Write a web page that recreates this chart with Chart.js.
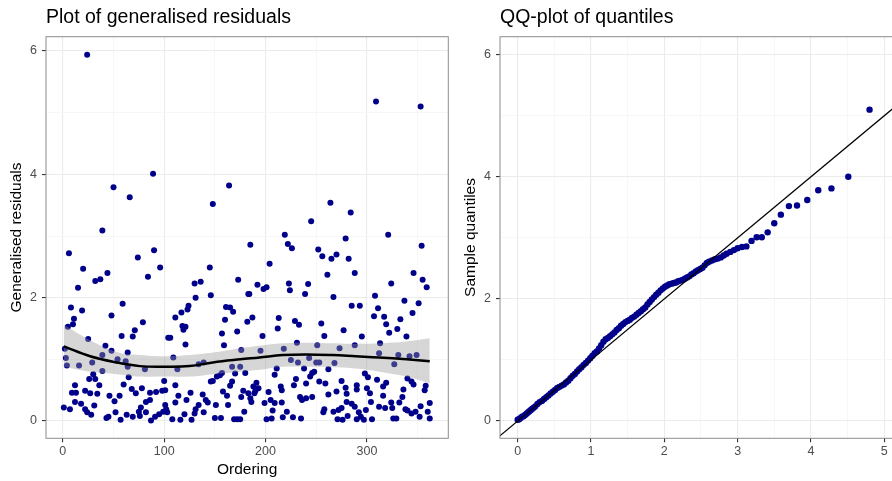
<!DOCTYPE html>
<html>
<head>
<meta charset="utf-8">
<script src="https://cdn.jsdelivr.net/npm/chart.js@4.4.1/dist/chart.umd.min.js"></script>
<style>
  html, body { margin: 0; padding: 0; background: #fff; overflow: hidden; width: 892px; height: 481px; }
  #residualChart { position: absolute; left: 0; top: 0; }
  #qqChart { position: absolute; left: 454px; top: 0; }
</style>
</head>
<body>
<canvas id="residualChart" width="454" height="481"></canvas>
<canvas id="qqChart" width="460" height="481"></canvas>
<script>
// left panel: [ordering, generalised residual]
const residualPoints = [
  [24,5.94],[50,3.79],[66,3.63],[89,4.01],[148,3.52],[164,3.82],[39,3.09],[309,5.18],[353,5.10],[245,3.24],
  [264,3.54],[284,3.38],[6,2.72],[20,2.47],[15,2.16],[32,2.27],[37,2.30],[44,2.40],[74,2.65],[90,2.77],
  [84,2.34],[96,2.49],[130,2.23],[136,2.26],[145,2.49],[173,2.29],[185,2.86],[219,3.02],[222,2.87],[226,2.80],
  [279,2.96],[252,2.78],[256,2.67],[265,2.63],[270,2.70],[282,2.63],[204,2.55],[261,2.37],[288,2.40],[321,3.02],
  [354,2.84],[346,2.40],[355,2.29],[359,2.17],[324,2.23],[192,2.21],[201,2.17],[223,2.23],[242,2.22],[224,2.12],
  [198,2.14],[146,2.04],[183,2.06],[8,1.84],[19,1.79],[11,1.66],[10,1.57],[5,1.53],[59,1.90],[48,1.71],
  [79,1.60],[71,1.47],[69,1.37],[58,1.38],[25,1.33],[2,1.17],[3,1.02],[4,0.90],[16,0.90],[42,1.22],
  [48,1.14],[39,1.07],[29,0.95],[54,1.00],[64,1.11],[62,0.97],[39,0.81],[81,0.84],[30,0.76],[26,0.68],
  [32,0.68],[36,0.58],[12,0.58],[9,0.46],[13,0.46],[22,0.49],[27,0.45],[34,0.44],[12,0.31],[18,0.28],
  [22,0.19],[31,0.25],[1,0.22],[7,0.19],[28,0.10],[24,0.14],[43,0.05],[45,0.07],[52,0.14],[57,0.02],
  [46,0.41],[51,0.32],[56,0.41],[60,0.59],[65,0.71],[68,0.52],[72,0.45],[78,0.53],[86,0.46],[92,0.47],
  [86,0.34],[82,0.31],[77,0.22],[75,0.15],[63,0.10],[69,0.07],[76,0.08],[82,0.14],[87,0.01],[91,0.07],
  [95,0.11],[99,0.15],[102,0.19],[103,0.14],[100,0.65],[101,0.50],[98,0.49],[101,0.26],[108,0.03],[111,0.30],
  [111,0.58],[114,0.41],[116,0.02],[120,0.11],[122,0.34],[126,0.46],[127,0.02],[130,0.12],[131,0.19],[134,0.26],
  [138,0.43],[141,0.34],[143,0.30],[139,0.14],[146,0.64],[148,0.65],[152,0.72],[155,0.74],[151,0.26],[158,0.48],
  [163,0.26],[162,0.41],[150,0.05],[156,0.05],[169,0.03],[172,0.03],[167,0.64],[165,0.57],[170,0.77],[175,0.88],
  [104,1.35],[106,1.35],[109,1.03],[113,0.84],[121,1.24],[111,1.68],[117,1.76],[124,1.87],[123,1.81],[118,1.54],
  [121,1.53],[119,1.48],[131,2.00],[134,0.92],[139,0.95],[161,1.85],[165,1.84],[168,1.77],[160,1.64],[172,1.45],
  [157,1.42],[159,1.23],[176,1.15],[157,0.78],[167,0.88],[64,0.88],[184,2.06],[239,2.06],[267,2.01],[285,1.87],
  [293,1.87],[308,2.03],[311,1.83],[307,1.70],[317,1.69],[319,1.57],[322,1.43],[330,1.49],[333,1.65],[337,1.95],
  [345,1.75],[351,1.91],[339,1.37],[313,1.26],[182,1.61],[187,1.68],[197,1.38],[213,1.67],[212,1.50],[229,1.62],
  [233,1.56],[255,1.58],[258,1.38],[277,1.47],[288,1.23],[295,1.37],[195,1.14],[218,1.17],[231,1.27],[251,1.23],
  [273,1.18],[225,0.99],[232,0.95],[243,1.02],[250,0.95],[253,0.95],[268,0.94],[262,0.84],[238,0.85],[211,0.85],
  [180,0.78],[312,1.10],[327,0.92],[331,1.07],[342,1.05],[349,1.07],[209,0.75],[230,0.68],[244,0.72],[246,0.78],
  [248,0.80],[253,0.64],[259,0.61],[275,0.65],[228,0.58],[240,0.61],[215,0.56],[216,0.50],[191,0.62],[188,0.56],
  [193,0.53],[189,0.45],[183,0.45],[178,0.49],[176,0.39],[185,0.37],[186,0.31],[179,0.15],[175,0.03],[199,0.29],
  [203,0.47],[205,0.34],[209,0.29],[207,0.17],[201,0.03],[206,0.04],[217,0.06],[221,0.15],[227,0.06],[235,0.04],
  [234,0.39],[236,0.34],[240,0.37],[246,0.39],[258,0.19],[257,0.14],[262,0.43],[267,0.15],[270,0.48],[272,0.18],
  [271,0.03],[275,0.21],[276,0.02],[279,0.54],[280,0.44],[281,0.08],[285,0.28],[290,0.58],[290,0.51],[292,0.14],
  [294,0.07],[297,0.02],[299,0.18],[298,0.77],[301,0.71],[300,0.53],[303,0.45],[304,0.31],[305,0.03],[310,0.67],
  [312,0.23],[316,0.41],[316,0.56],[319,0.62],[318,0.21],[324,0.30],[326,0.04],[325,0.21],[329,0.04],[332,0.30],
  [335,0.39],[336,0.51],[340,0.69],[344,0.64],[346,0.59],[338,0.19],[340,0.17],[344,0.12],[348,0.15],[352,0.07],
  [353,0.24],[357,0.50],[358,0.57],[362,0.29],[360,0.15],[362,0.04],[190,0.49],[216,0.30],[280,0.31],[288,0.23],
  [290,0.03]
];

// loess smoother and its confidence band
const smoothOrdering = [1, 27, 53, 76, 100, 125, 148, 175, 194, 217, 240, 266, 289, 312, 339, 362];
const smoothFit      = [1.21, 1.05, 0.95, 0.89, 0.88, 0.89, 0.95, 1.00, 1.03, 1.07, 1.08, 1.07, 1.05, 1.03, 1.00, 0.97];
const smoothUpper    = [1.56, 1.31, 1.12, 1.07, 1.05, 1.07, 1.11, 1.18, 1.22, 1.26, 1.27, 1.26, 1.25, 1.26, 1.29, 1.34];
const smoothLower    = [0.88, 0.80, 0.76, 0.72, 0.72, 0.72, 0.76, 0.80, 0.83, 0.88, 0.88, 0.87, 0.85, 0.80, 0.72, 0.61];

const residualXTicks = [0, 100, 200, 300];
const residualXMinor = [50, 150, 250, 350];
const residualYTicks = [0, 2, 4, 6];
const residualYMinor = [1, 3, 5];

// right panel: [theoretical quantile, sample quantile]
const qqPoints = [
  [0.00,0.02],[0.02,0.03],[0.04,0.05],[0.06,0.07],[0.08,0.08],[0.10,0.10],[0.12,0.12],[0.14,0.14],[0.16,0.16],[0.18,0.18],
  [0.20,0.20],[0.22,0.22],[0.24,0.24],[0.27,0.28],[0.30,0.31],[0.33,0.33],[0.36,0.36],[0.39,0.39],[0.42,0.42],[0.45,0.45],
  [0.48,0.48],[0.51,0.51],[0.54,0.54],[0.57,0.56],[0.60,0.58],[0.63,0.60],[0.66,0.63],[0.69,0.66],[0.72,0.70],[0.75,0.74],
  [0.78,0.77],[0.81,0.81],[0.84,0.85],[0.87,0.88],[0.90,0.92],[0.93,0.95],[0.96,0.99],[0.99,1.03],[1.02,1.07],[1.05,1.11],
  [1.08,1.14],[1.11,1.19],[1.14,1.24],[1.17,1.30],[1.20,1.34],[1.23,1.36],[1.26,1.39],[1.29,1.42],[1.32,1.45],[1.35,1.49],
  [1.38,1.52],[1.41,1.56],[1.44,1.59],[1.47,1.62],[1.50,1.64],[1.53,1.66],[1.56,1.69],[1.59,1.71],[1.62,1.74],[1.65,1.77],
  [1.68,1.80],[1.71,1.83],[1.74,1.86],[1.77,1.91],[1.80,1.95],[1.83,1.99],[1.86,2.03],[1.89,2.07],[1.92,2.10],[1.95,2.14],
  [1.98,2.17],[2.01,2.20],[2.04,2.22],[2.07,2.24],[2.10,2.25],[2.13,2.26],[2.16,2.27],[2.19,2.29],[2.22,2.30],[2.25,2.31],
  [2.28,2.33],[2.31,2.35],[2.34,2.37],[2.37,2.40],[2.40,2.42],[2.43,2.45],[2.46,2.47],[2.49,2.49],[2.52,2.51],[2.55,2.55],
  [2.58,2.59],[2.61,2.61],[2.65,2.63],[2.69,2.65],[2.73,2.66],[2.77,2.68],[2.81,2.71],[2.85,2.74],[2.90,2.77],[2.95,2.80],
  [3.00,2.83],[3.06,2.85],[3.12,2.86],[3.19,2.95],[3.26,3.01],[3.33,3.01],[3.41,3.09],[3.50,3.24],[3.59,3.38],[3.70,3.52],
  [3.81,3.53],[3.95,3.62],[4.10,3.78],[4.28,3.81],[4.51,4.00],[4.80,5.10],[5.19,5.18],[5.89,5.93]
];
const qqLineIntercept = 0;
const qqLineSlope = 1;

const qqXTicks = [0, 1, 2, 3, 4, 5];
const qqXMinor = [0.5, 1.5, 2.5, 3.5, 4.5];
const qqYTicks = [0, 2, 4, 6];
const qqYMinor = [1, 3, 5];

const FONT = '"Liberation Sans", Arial, Helvetica, sans-serif';
const POINT_COLOR = "#00008b";

function toXY(pairs) {
  return pairs.map(function (p) { return { x: p[0], y: p[1] }; });
}

function ggAxis(min, max, major, minor, titleText, titlePadding, boxSize, tickPad) {
  const isMajor = function (ctx) {
    return ctx.tick && major.includes(ctx.tick.value);
  };
  return {
    type: "linear",
    min: min,
    max: max,
    afterBuildTicks: function (scale) {
      scale.ticks = major.concat(minor).sort(function (a, b) { return a - b; })
        .map(function (v) { return { value: v }; });
    },
    afterFit: function (scale) {
      if (scale.isHorizontal()) scale.height = boxSize;
      else scale.width = boxSize;
    },
    grid: {
      color: function (ctx) { return isMajor(ctx) ? "#ebebeb" : "#f3f3f3"; },
      lineWidth: function (ctx) { return isMajor(ctx) ? 1.1 : 0.7; },
      tickColor: function (ctx) { return isMajor(ctx) ? "#333333" : "rgba(0,0,0,0)"; },
      tickLength: 4,
      drawTicks: true,
    },
    border: { display: false },
    ticks: {
      autoSkip: false,
      maxRotation: 0,
      padding: tickPad,
      color: "#4d4d4d",
      font: { family: FONT, size: 12.5 },
      callback: function (value) {
        return major.includes(value) ? String(value) : "";
      },
    },
    title: {
      display: !!titleText,
      text: titleText || "",
      color: "#000000",
      font: { family: FONT, size: 15.5 },
      padding: titlePadding,
    },
  };
}

const panelBorder = {
  id: "panelBorder",
  afterDatasetsDraw: function (chart) {
    const a = chart.chartArea;
    const ctx = chart.ctx;
    ctx.save();
    ctx.strokeStyle = "#8c8c8c";
    ctx.lineWidth = 1;
    ctx.strokeRect(a.left, a.top, a.right - a.left, a.bottom - a.top);
    ctx.restore();
  },
};

function plotTitle(text) {
  return {
    display: true,
    text: text,
    align: "start",
    fullSize: false,
    color: "#000000",
    font: { family: FONT, size: 19.5, weight: "normal" },
    padding: { top: 5.5, bottom: 7.8 },
  };
}

// ---------- left: generalised residuals ----------
new Chart(document.getElementById("residualChart").getContext("2d"), {
  type: "scatter",
  data: {
    datasets: [
      {
        data: toXY(smoothOrdering.map(function (x, i) { return [x, smoothFit[i]]; })),
        showLine: true,
        borderColor: "#000000",
        borderWidth: 2.5,
        pointRadius: 0,
        tension: 0.4,
        fill: false,
      },
      {
        data: toXY(smoothOrdering.map(function (x, i) { return [x, smoothUpper[i]]; })),
        showLine: true,
        borderWidth: 0,
        borderColor: "rgba(0,0,0,0)",
        backgroundColor: "rgba(153,153,153,0.4)",
        pointRadius: 0,
        tension: 0.4,
        fill: "+1",
      },
      {
        data: toXY(smoothOrdering.map(function (x, i) { return [x, smoothLower[i]]; })),
        showLine: true,
        borderWidth: 0,
        borderColor: "rgba(0,0,0,0)",
        pointRadius: 0,
        tension: 0.4,
        fill: false,
      },
      {
        data: toXY(residualPoints),
        pointRadius: 3,
        pointBackgroundColor: POINT_COLOR,
        pointBorderWidth: 0,
      },
    ],
  },
  options: {
    responsive: false,
    animation: false,
    devicePixelRatio: 1,
    events: [],
    layout: { padding: { left: 4, right: 5.7, top: 0, bottom: 0 } },
    plugins: {
      legend: { display: false },
      tooltip: { enabled: false },
      title: plotTitle("Plot of generalised residuals"),
    },
    scales: {
      x: ggAxis(-16.6, 380.3, residualXTicks, residualXMinor, "Ordering", { top: 0, bottom: 2 }, 42.7, 2),
      y: ggAxis(-0.2805, 6.232, residualYTicks, residualYMinor, "Generalised residuals", { top: 3.7, bottom: 0 }, 42, 5),
    },
  },
  plugins: [panelBorder],
});

// ---------- right: QQ plot ----------
const qqXMin = -0.241;
const qqXMax = 5.297;

new Chart(document.getElementById("qqChart").getContext("2d"), {
  type: "scatter",
  data: {
    datasets: [
      {
        data: toXY([qqXMin - 1, qqXMax + 1].map(function (x) { return [x, qqLineIntercept + qqLineSlope * x]; })),
        showLine: true,
        borderColor: "#000000",
        borderWidth: 1.2,
        pointRadius: 0,
        fill: false,
      },
      {
        data: toXY(qqPoints),
        pointRadius: 3.2,
        pointBackgroundColor: POINT_COLOR,
        pointBorderWidth: 0,
      },
    ],
  },
  options: {
    responsive: false,
    animation: false,
    devicePixelRatio: 1,
    events: [],
    layout: { padding: { left: 4, right: 8, top: 0, bottom: 0 } },
    plugins: {
      legend: { display: false },
      tooltip: { enabled: false },
      title: plotTitle("QQ-plot of quantiles"),
    },
    scales: {
      x: ggAxis(qqXMin, qqXMax, qqXTicks, qqXMinor, "", { top: 0, bottom: 2 }, 42.7, 2),
      y: ggAxis(-0.283, 6.295, qqYTicks, qqYMinor, "Sample quantiles", { top: 3.7, bottom: 0 }, 42, 5),
    },
  },
  plugins: [panelBorder],
});
</script>
</body>
</html>
